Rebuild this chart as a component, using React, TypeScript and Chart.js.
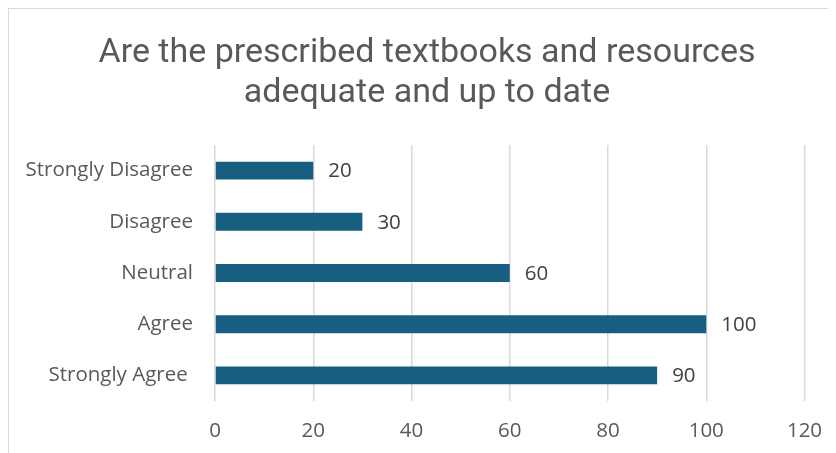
import React, { useEffect, useRef } from "react";
import { Chart, registerables } from "chart.js";

Chart.register(...registerables);

const titleLines = ["Are the prescribed textbooks and resources", "adequate and up to date"];
const categories = ["Strongly Disagree", "Disagree", "Neutral", "Agree", "Strongly Agree "];
const responses = [20, 30, 60, 100, 90];
const axisMin = 0;
const axisMax = 120;
const axisStep = 20;

const barColor = "#185e80";
const textGray = "#595959";
const labelGray = "#404040";
const gridGray = "#d9d9d9";

const valueLabels = {
  id: "valueLabels",
  afterDatasetsDraw(chart: any) {
    const ctx = chart.ctx;
    const meta = chart.getDatasetMeta(0);
    ctx.save();
    ctx.font = "20.5px 'Open Sans'";
    ctx.fillStyle = labelGray;
    ctx.textAlign = "left";
    ctx.textBaseline = "middle";
    meta.data.forEach((el: any, i: number) => {
      ctx.fillText(String(chart.data.datasets[0].data[i]), el.x + 15, el.y + 1);
    });
    ctx.restore();
  },
};

export default function App() {
  const ref = useRef<HTMLCanvasElement | null>(null);
  useEffect(() => {
    document.body.style.overflow = "hidden";
    const chart = new Chart(ref.current as HTMLCanvasElement, {
      type: "bar",
      data: {
        labels: categories,
        datasets: [
          {
            data: responses,
            backgroundColor: barColor,
            borderWidth: 0,
            barPercentage: 0.35,
            categoryPercentage: 1,
          },
        ],
      },
      options: {
        indexAxis: "y",
        responsive: false,
        animation: false,
        layout: { padding: { left: 10, right: 0, top: 0, bottom: 0 } },
        plugins: {
          legend: { display: false },
          tooltip: { enabled: false },
          title: {
            display: true,
            text: titleLines,
            color: textGray,
            font: { family: "Roboto", size: 34, weight: "normal", lineHeight: 40 / 34 },
            padding: { top: 24, bottom: 32 },
          },
        },
        scales: {
          x: {
            min: axisMin,
            max: axisMax,
            ticks: {
              stepSize: axisStep,
              color: textGray,
              font: { family: "'Open Sans'", size: 20.5 },
              padding: 18,
            },
            grid: { color: gridGray, lineWidth: 1.5, drawTicks: false },
            border: { display: false },
            afterFit: (s: any) => {
              s.height = 51;
              s.paddingLeft = 0;
              s.paddingRight = 30.5;
            },
          },
          y: {
            ticks: {
              color: textGray,
              font: { family: "'Open Sans'", size: 20.5 },
              padding: 22,
            },
            grid: { display: false, drawTicks: false },
            border: { display: false },
            afterFit: (s: any) => {
              s.width = 196;
            },
          },
        },
      },
      plugins: [valueLabels],
    });
    return () => chart.destroy();
  }, []);
  return (
    <div
      style={{
        width: 828,
        height: 445,
        boxSizing: "border-box",
        borderTop: "1.5px solid #d9d9d9",
        borderLeft: "1.5px solid #d9d9d9",
        background: "#fff",
      }}
    >
      <canvas ref={ref} width={826} height={443} style={{ display: "block" }} />
    </div>
  );
}
